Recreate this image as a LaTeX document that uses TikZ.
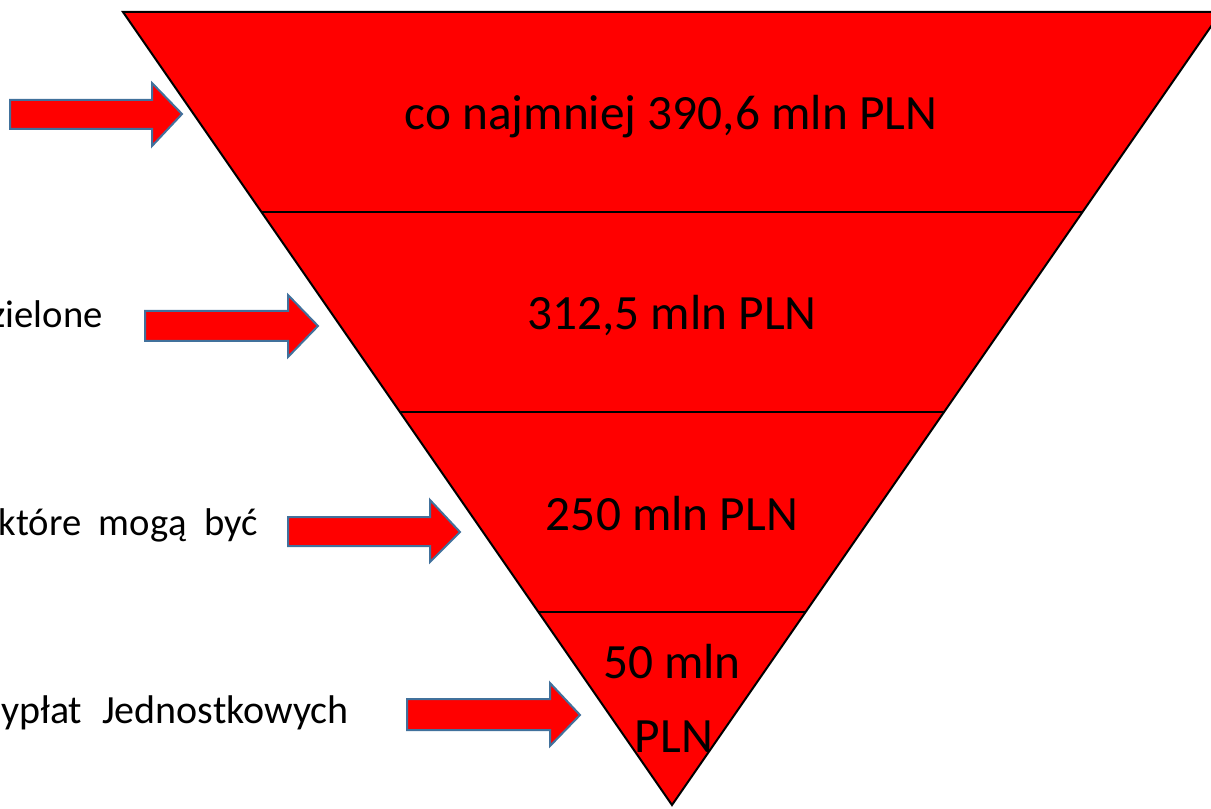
\documentclass[tikz,border=0pt]{standalone}
\usepackage{fontspec}
\setmainfont{Carlito}

\tikzset{
  level/.style={draw=black, line width=1.5pt, fill=red},
  blockarrow/.style={draw={rgb,255:red,65;green,113;blue,156}, line width=1.5pt, fill=red, line join=miter},
  amount/.style={inner sep=0pt, anchor=base, font=\fontsize{37}{44}\selectfont},
  sidetext/.style={inner sep=0pt, anchor=base east, font=\fontsize{29}{35}\selectfont}
}

\begin{document}
\begin{tikzpicture}[x=0.75pt, y=-0.75pt]
    \useasboundingbox (0,0) rectangle (1211,809);
    % inverted pyramid
    \draw[level] (123,12) -- (1221,12) -- (672,805) -- cycle;
    \draw[line width=1.2pt] (261.5,212) -- (1082.5,212);
    \draw[line width=1.2pt] (400,412) -- (944,412);
    \draw[line width=1.2pt] (538.5,612) -- (805.5,612);
    \node[amount] (top) at (671,130) {co najmniej 390,6 mln PLN};
    \node[amount] (second) at (672,330) {312,5 mln PLN};
    \node[amount] (third) at (672,530) {250 mln PLN};
    \node[amount] (fourtha) at (672,678) {50 mln};
    \node[amount] (fourthb) at (674,752) {PLN};
    % arrows
    \draw[blockarrow] (10,100) -- (152,100) -- (152,83) -- (182,114) -- (152,146) -- (152,129) -- (10,129) -- cycle;
    \draw[blockarrow] (145,311) -- (288,311) -- (288,295) -- (318,326) -- (288,357) -- (288,341) -- (145,341) -- cycle;
    \draw[blockarrow] (288,517) -- (430,517) -- (430,500) -- (460,532) -- (430,562) -- (430,546) -- (288,546) -- cycle;
    \draw[blockarrow] (407,699) -- (550,699) -- (550,683) -- (580,715) -- (550,746) -- (550,730) -- (407,730) -- cycle;
    % texts on the left
    \node[sidetext] (zielone) at (103,328) {zielone};
    \node[sidetext] (mogaa) at (258,535) {które\hspace{0.45em}mogą\hspace{0.45em}być};
    \node[sidetext] (wyplat) at (349,723) {\fontsize{30}{36}\selectfont ypłat\hspace{0.5em}Jednostkowych};
\end{tikzpicture}
\end{document}
